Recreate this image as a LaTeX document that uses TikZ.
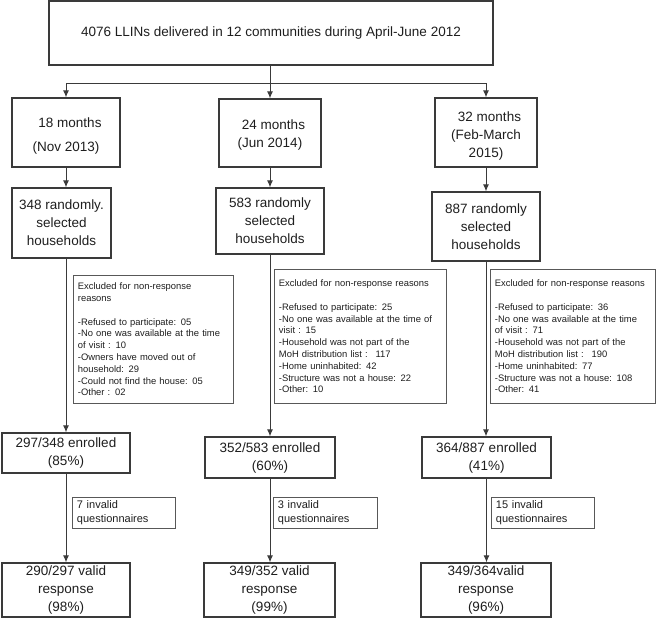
\documentclass[tikz,border=0pt]{standalone}
\usepackage{fontspec}
\setmainfont{Liberation Sans}
\usetikzlibrary{arrows.meta}
\definecolor{bord}{HTML}{3A3A3A}
\definecolor{txt}{HTML}{1E1E1E}
\begin{document}
\begin{tikzpicture}[x=1pt,y=-1pt,
  bigbox/.style={draw=bord, line width=1.4pt, inner sep=0pt, align=center, text=txt, font=\fontsize{13.5}{18}\selectfont},
  exbox/.style={draw=bord!85, line width=0.9pt, inner xsep=4.5pt, inner ysep=0pt, align=left, text=txt, anchor=north west, font=\fontsize{9.4}{11.8}\selectfont},
  invbox/.style={exbox, font=\fontsize{11}{14}\selectfont},
  arr/.style={draw=bord, line width=0.9pt, -{Latex[length=7pt,width=6pt]}},
  ln/.style={draw=bord, line width=0.9pt}]
\useasboundingbox (0,0) rectangle (660,618);
% row 1
\node[bigbox, minimum width=444pt, minimum height=64pt] (top) at (271,33) {4076 LLINs delivered in 12 communities during April-June 2012};
% row 2
\node[bigbox, minimum width=108pt, minimum height=69pt] (m18) at (66,132.5) {\rule{0pt}{17pt}\hspace*{8pt}18 months\\[6pt](Nov 2013)};
\node[bigbox, minimum width=102pt, minimum height=68pt] (m24) at (270,133) {\rule{0pt}{14pt}\hspace*{7pt}24 months\\(Jun 2014)};
\node[bigbox, minimum width=102pt, minimum height=69pt] (m32) at (486,132.5) {\rule{0pt}{17pt}\hspace*{7pt}32 months\\(Feb-March\\2015)};
% row 3
\node[bigbox, minimum width=99pt, minimum height=70pt] (s348) at (61.5,223) {348 randomly.\\selected\\households};
\node[bigbox, minimum width=108pt, minimum height=66pt] (s583) at (270,221) {583 randomly\\selected\\households};
\node[bigbox, minimum width=108pt, minimum height=69pt] (s887) at (486,226.5) {887 randomly\\selected\\households};
% excluded boxes
\node[exbox, text width=151pt, minimum height=128pt] (x1) at (73,275) {Excluded for non-response\\reasons\\[11.8pt]-Refused to participate: 05\\-No one was available at the time\\of visit : 10\\-Owners have moved out of\\household: 29\\-Could not find the house: 05\\-Other : 02};
\node[exbox, text width=163pt, minimum height=134pt] (x2) at (274,269) {Excluded for non-response reasons\\[11.8pt]-Refused to participate: 25\\-No one was available at the time of\\visit : 15\\-Household was not part of the\\MoH distribution list :~ 117\\-Home uninhabited: 42\\-Structure was not a house: 22\\-Other: 10};
\node[exbox, text width=156pt, minimum height=134pt] (x3) at (490,269) {Excluded for non-response reasons\\[11.8pt]-Refused to participate: 36\\-No one was available at the time\\of visit : 71\\-Household was not part of the\\MoH distribution list :~ 190\\-Home uninhabited: 77\\-Structure was not a house: 108\\-Other: 41};
% row 4
\node[bigbox, minimum width=128pt, minimum height=40pt] (e297) at (66,453) {297/348 enrolled\\(85\%)};
\node[bigbox, minimum width=130pt, minimum height=41pt] (e352) at (270,457.5) {352/583 enrolled\\(60\%)};
\node[bigbox, minimum width=129pt, minimum height=41pt] (e364) at (486.5,457.5) {364/887 enrolled\\(41\%)};
% invalid boxes
\node[invbox, text width=94pt, minimum height=31pt] (i1) at (72,497) {7 invalid\\questionnaires};
\node[invbox, text width=95pt, minimum height=31pt] (i2) at (273,497) {3 invalid\\questionnaires};
\node[invbox, text width=94pt, minimum height=31pt] (i3) at (491,497) {15 invalid\\questionnaires};
% row 5
\node[bigbox, minimum width=128pt, minimum height=54pt] (v290) at (66,590) {290/297 valid\\response\\(98\%)};
\node[bigbox, minimum width=131pt, minimum height=54pt] (v349) at (269.5,590) {349/352 valid\\response\\(99\%)};
\node[bigbox, minimum width=130pt, minimum height=54pt] (v349b) at (486,590) {349/364valid\\response\\(96\%)};
% connectors
\coordinate (j) at (270,83);
\draw[arr] (top.south -| m24) -- (m24);
\draw[arr] (j) -| (m18);
\draw[arr] (j) -| (m32);
\draw[arr] (m18) -- (m18 |- s348.north);
\draw[arr] (e297 |- s348.south) -- (e297);
\draw[arr] (e297) -- (v290);
\draw[arr] (m24) -- (s583);
\draw[arr] (s583) -- (e352);
\draw[arr] (e352) -- (e352 |- v349.north);
\draw[arr] (m32) -- (s887);
\draw[arr] (s887) -- (s887 |- e364.north);
\draw[arr] (e364) -- (e364 |- v349b.north);
\end{tikzpicture}
\end{document}
